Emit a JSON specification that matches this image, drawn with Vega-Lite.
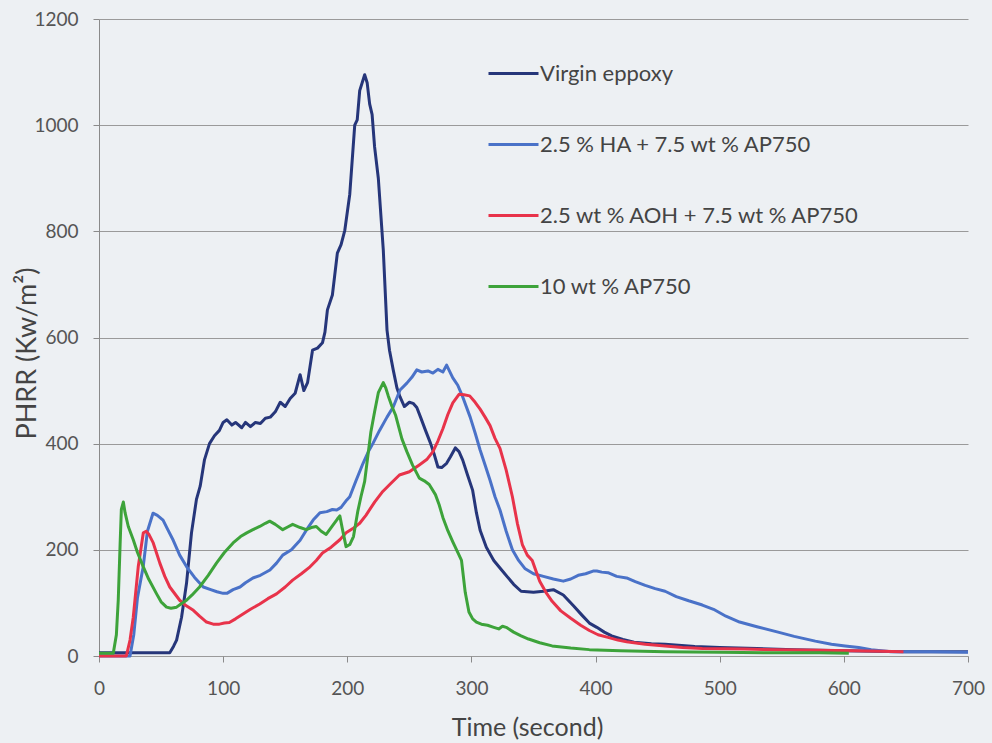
{
  "$schema": "https://vega.github.io/schema/vega-lite/v6.json",
  "autosize": "none",
  "width": 869,
  "height": 637,
  "padding": {"left": 99, "top": 19, "right": 24, "bottom": 87},
  "background": "#edf0f3",
  "config": {
    "view": {"stroke": null},
    "font": "Lato",
    "axis": {"labelFont": "Lato", "titleFont": "Lato", "labelColor": "#555555", "titleColor": "#444444", "titleFontWeight": "normal", "domainColor": "#8a8a8a", "tickColor": "#8a8a8a", "gridColor": "#9a9a9a", "gridWidth": 1, "labelFlush": false, "labelOverlap": false}
  },
  "data": {"values": [
{"s":"V","t":0,"y":6},{"s":"V","t":10,"y":6},{"s":"V","t":20,"y":6},{"s":"V","t":30,"y":6},{"s":"V","t":40,"y":6},{"s":"V","t":50,"y":6},{"s":"V","t":57,"y":6},{"s":"V","t":60,"y":18},{"s":"V","t":62.5,"y":30},{"s":"V","t":66.5,"y":73},{"s":"V","t":70.5,"y":137},{"s":"V","t":74.5,"y":232},{"s":"V","t":78.5,"y":295},{"s":"V","t":81.5,"y":320},{"s":"V","t":85,"y":370},{"s":"V","t":89,"y":400},{"s":"V","t":93,"y":415},{"s":"V","t":97,"y":425},{"s":"V","t":100,"y":440},{"s":"V","t":103,"y":445},{"s":"V","t":107,"y":435},{"s":"V","t":110,"y":440},{"s":"V","t":115,"y":430},{"s":"V","t":118,"y":440},{"s":"V","t":122,"y":432},{"s":"V","t":126,"y":440},{"s":"V","t":130,"y":438},{"s":"V","t":134,"y":448},{"s":"V","t":138,"y":450},{"s":"V","t":142,"y":460},{"s":"V","t":146,"y":478},{"s":"V","t":150,"y":470},{"s":"V","t":154,"y":485},{"s":"V","t":158,"y":495},{"s":"V","t":162,"y":530},{"s":"V","t":165,"y":500},{"s":"V","t":168,"y":515},{"s":"V","t":172,"y":576},{"s":"V","t":176,"y":580},{"s":"V","t":180,"y":590},{"s":"V","t":182,"y":610},{"s":"V","t":184,"y":652},{"s":"V","t":188,"y":680},{"s":"V","t":192,"y":759},{"s":"V","t":195,"y":775},{"s":"V","t":198,"y":802},{"s":"V","t":202,"y":870},{"s":"V","t":206,"y":1000},{"s":"V","t":208,"y":1010},{"s":"V","t":210,"y":1065},{"s":"V","t":214,"y":1095},{"s":"V","t":216,"y":1080},{"s":"V","t":218,"y":1040},{"s":"V","t":220,"y":1020},{"s":"V","t":222,"y":959},{"s":"V","t":225,"y":900},{"s":"V","t":229,"y":765},{"s":"V","t":232,"y":614},{"s":"V","t":234,"y":576},{"s":"V","t":237,"y":539},{"s":"V","t":240,"y":505},{"s":"V","t":242.5,"y":488},{"s":"V","t":246,"y":470},{"s":"V","t":250,"y":478},{"s":"V","t":253,"y":476},{"s":"V","t":256,"y":468},{"s":"V","t":259,"y":450},{"s":"V","t":263,"y":425},{"s":"V","t":267,"y":401},{"s":"V","t":270,"y":380},{"s":"V","t":273,"y":356},{"s":"V","t":276,"y":355},{"s":"V","t":280,"y":363},{"s":"V","t":283,"y":375},{"s":"V","t":287,"y":392},{"s":"V","t":290,"y":385},{"s":"V","t":293,"y":369},{"s":"V","t":297,"y":340},{"s":"V","t":301,"y":312},{"s":"V","t":304,"y":270},{"s":"V","t":307,"y":237},{"s":"V","t":312,"y":205},{"s":"V","t":318,"y":180},{"s":"V","t":325,"y":160},{"s":"V","t":334,"y":135},{"s":"V","t":340,"y":122},{"s":"V","t":350,"y":120},{"s":"V","t":358,"y":122},{"s":"V","t":366,"y":125},{"s":"V","t":374,"y":115},{"s":"V","t":382,"y":95},{"s":"V","t":389,"y":77},{"s":"V","t":395,"y":62},{"s":"V","t":401,"y":54},{"s":"V","t":407,"y":45},{"s":"V","t":413,"y":38},{"s":"V","t":422,"y":31},{"s":"V","t":431,"y":26},{"s":"V","t":445,"y":23},{"s":"V","t":456,"y":22},{"s":"V","t":480,"y":18},{"s":"V","t":500,"y":16},{"s":"V","t":530,"y":14},{"s":"V","t":560,"y":12},{"s":"V","t":600,"y":10},{"s":"V","t":650,"y":8},{"s":"V","t":700,"y":8},
{"s":"H","t":0,"y":0},{"s":"H","t":10,"y":0},{"s":"H","t":20,"y":0},{"s":"H","t":25,"y":0},{"s":"H","t":28,"y":40},{"s":"H","t":31,"y":110},{"s":"H","t":35.6,"y":168},{"s":"H","t":39,"y":235},{"s":"H","t":43.5,"y":269},{"s":"H","t":47,"y":265},{"s":"H","t":51.6,"y":256},{"s":"H","t":55,"y":240},{"s":"H","t":59.8,"y":218},{"s":"H","t":65,"y":190},{"s":"H","t":70.6,"y":168},{"s":"H","t":77,"y":148},{"s":"H","t":84,"y":130},{"s":"H","t":90,"y":125},{"s":"H","t":95,"y":121},{"s":"H","t":100,"y":118},{"s":"H","t":103,"y":118},{"s":"H","t":108,"y":125},{"s":"H","t":113.6,"y":130},{"s":"H","t":118,"y":138},{"s":"H","t":124,"y":147},{"s":"H","t":130,"y":152},{"s":"H","t":137.7,"y":162},{"s":"H","t":143,"y":175},{"s":"H","t":148,"y":190},{"s":"H","t":155,"y":200},{"s":"H","t":162,"y":218},{"s":"H","t":167,"y":237},{"s":"H","t":172.5,"y":256},{"s":"H","t":178,"y":270},{"s":"H","t":183.5,"y":272},{"s":"H","t":188,"y":276},{"s":"H","t":191.5,"y":275},{"s":"H","t":195,"y":280},{"s":"H","t":199.6,"y":294},{"s":"H","t":202,"y":300},{"s":"H","t":207,"y":330},{"s":"H","t":212.7,"y":363},{"s":"H","t":217,"y":385},{"s":"H","t":220.8,"y":401},{"s":"H","t":226,"y":425},{"s":"H","t":232,"y":450},{"s":"H","t":237,"y":469},{"s":"H","t":242.5,"y":501},{"s":"H","t":248,"y":514},{"s":"H","t":252,"y":525},{"s":"H","t":256,"y":539},{"s":"H","t":260,"y":535},{"s":"H","t":265,"y":537},{"s":"H","t":269,"y":533},{"s":"H","t":273,"y":540},{"s":"H","t":277,"y":535},{"s":"H","t":280,"y":548},{"s":"H","t":285,"y":524},{"s":"H","t":289,"y":510},{"s":"H","t":293,"y":488},{"s":"H","t":299,"y":450},{"s":"H","t":303,"y":420},{"s":"H","t":307,"y":388},{"s":"H","t":311,"y":360},{"s":"H","t":315,"y":331},{"s":"H","t":319,"y":300},{"s":"H","t":323,"y":275},{"s":"H","t":328,"y":235},{"s":"H","t":333,"y":200},{"s":"H","t":338,"y":180},{"s":"H","t":343,"y":165},{"s":"H","t":350,"y":155},{"s":"H","t":358,"y":150},{"s":"H","t":366,"y":145},{"s":"H","t":374,"y":141},{"s":"H","t":380,"y":145},{"s":"H","t":386,"y":152},{"s":"H","t":392,"y":155},{"s":"H","t":398,"y":160},{"s":"H","t":401,"y":160},{"s":"H","t":405,"y":158},{"s":"H","t":410,"y":157},{"s":"H","t":417,"y":150},{"s":"H","t":425,"y":147},{"s":"H","t":432,"y":140},{"s":"H","t":440,"y":133},{"s":"H","t":448,"y":127},{"s":"H","t":456,"y":122},{"s":"H","t":465,"y":112},{"s":"H","t":475,"y":104},{"s":"H","t":486,"y":96},{"s":"H","t":495,"y":88},{"s":"H","t":505,"y":75},{"s":"H","t":516,"y":64},{"s":"H","t":530,"y":55},{"s":"H","t":547,"y":45},{"s":"H","t":560,"y":37},{"s":"H","t":577,"y":28},{"s":"H","t":590,"y":22},{"s":"H","t":601,"y":19},{"s":"H","t":612,"y":16},{"s":"H","t":622,"y":12},{"s":"H","t":638,"y":8},{"s":"H","t":650,"y":8},{"s":"H","t":670,"y":8},{"s":"H","t":700,"y":7},
{"s":"A","t":0,"y":0},{"s":"A","t":10,"y":0},{"s":"A","t":22,"y":0},{"s":"A","t":25,"y":30},{"s":"A","t":27.6,"y":73},{"s":"A","t":31.6,"y":168},{"s":"A","t":35.7,"y":232},{"s":"A","t":38,"y":235},{"s":"A","t":40,"y":230},{"s":"A","t":43.7,"y":213},{"s":"A","t":49,"y":175},{"s":"A","t":53,"y":150},{"s":"A","t":57,"y":130},{"s":"A","t":65,"y":105},{"s":"A","t":70,"y":95},{"s":"A","t":76,"y":86},{"s":"A","t":81,"y":75},{"s":"A","t":86.6,"y":64},{"s":"A","t":92,"y":60},{"s":"A","t":97,"y":60},{"s":"A","t":101,"y":62},{"s":"A","t":105,"y":63},{"s":"A","t":110,"y":70},{"s":"A","t":116,"y":79},{"s":"A","t":122,"y":88},{"s":"A","t":129.5,"y":98},{"s":"A","t":136,"y":108},{"s":"A","t":143,"y":117},{"s":"A","t":150,"y":130},{"s":"A","t":156,"y":143},{"s":"A","t":163,"y":155},{"s":"A","t":170,"y":168},{"s":"A","t":175,"y":180},{"s":"A","t":180,"y":194},{"s":"A","t":187,"y":205},{"s":"A","t":194,"y":219},{"s":"A","t":199,"y":232},{"s":"A","t":204.5,"y":240},{"s":"A","t":210,"y":250},{"s":"A","t":215,"y":265},{"s":"A","t":222,"y":290},{"s":"A","t":228.6,"y":310},{"s":"A","t":235,"y":325},{"s":"A","t":242,"y":341},{"s":"A","t":250,"y":347},{"s":"A","t":258,"y":360},{"s":"A","t":264,"y":370},{"s":"A","t":269,"y":385},{"s":"A","t":273,"y":405},{"s":"A","t":277,"y":428},{"s":"A","t":281,"y":455},{"s":"A","t":285,"y":477},{"s":"A","t":290,"y":493},{"s":"A","t":294,"y":492},{"s":"A","t":298.6,"y":490},{"s":"A","t":303,"y":478},{"s":"A","t":307,"y":465},{"s":"A","t":311,"y":450},{"s":"A","t":315,"y":434},{"s":"A","t":319,"y":410},{"s":"A","t":323,"y":391},{"s":"A","t":328,"y":350},{"s":"A","t":333,"y":300},{"s":"A","t":337,"y":250},{"s":"A","t":341,"y":210},{"s":"A","t":345,"y":190},{"s":"A","t":349,"y":180},{"s":"A","t":352,"y":160},{"s":"A","t":355,"y":141},{"s":"A","t":360,"y":120},{"s":"A","t":365,"y":103},{"s":"A","t":372,"y":85},{"s":"A","t":380,"y":71},{"s":"A","t":388,"y":58},{"s":"A","t":395,"y":48},{"s":"A","t":402,"y":40},{"s":"A","t":410,"y":35},{"s":"A","t":418,"y":30},{"s":"A","t":425,"y":27},{"s":"A","t":440,"y":22},{"s":"A","t":456,"y":19},{"s":"A","t":470,"y":16},{"s":"A","t":486,"y":14},{"s":"A","t":520,"y":13},{"s":"A","t":547,"y":12},{"s":"A","t":580,"y":11},{"s":"A","t":607,"y":10},{"s":"A","t":630,"y":9},{"s":"A","t":648,"y":8},
{"s":"G","t":0,"y":5},{"s":"G","t":5,"y":5},{"s":"G","t":11.5,"y":5},{"s":"G","t":14,"y":40},{"s":"G","t":15.5,"y":105},{"s":"G","t":17,"y":210},{"s":"G","t":18,"y":276},{"s":"G","t":19.6,"y":290},{"s":"G","t":21,"y":270},{"s":"G","t":23.6,"y":244},{"s":"G","t":27.6,"y":219},{"s":"G","t":31,"y":195},{"s":"G","t":35.7,"y":168},{"s":"G","t":40,"y":145},{"s":"G","t":46.4,"y":117},{"s":"G","t":50,"y":102},{"s":"G","t":54.4,"y":92},{"s":"G","t":58,"y":90},{"s":"G","t":62.5,"y":92},{"s":"G","t":66,"y":98},{"s":"G","t":70.5,"y":105},{"s":"G","t":75,"y":115},{"s":"G","t":81,"y":130},{"s":"G","t":88,"y":152},{"s":"G","t":94.6,"y":175},{"s":"G","t":101,"y":195},{"s":"G","t":108,"y":213},{"s":"G","t":114,"y":225},{"s":"G","t":119,"y":232},{"s":"G","t":124,"y":238},{"s":"G","t":129.5,"y":244},{"s":"G","t":134,"y":250},{"s":"G","t":137.5,"y":254},{"s":"G","t":142,"y":248},{"s":"G","t":148,"y":238},{"s":"G","t":152,"y":243},{"s":"G","t":156,"y":248},{"s":"G","t":162,"y":242},{"s":"G","t":167,"y":238},{"s":"G","t":171,"y":242},{"s":"G","t":175,"y":244},{"s":"G","t":179,"y":235},{"s":"G","t":183,"y":229},{"s":"G","t":188,"y":245},{"s":"G","t":192,"y":258},{"s":"G","t":194,"y":264},{"s":"G","t":196,"y":240},{"s":"G","t":199,"y":206},{"s":"G","t":202,"y":210},{"s":"G","t":205,"y":225},{"s":"G","t":208.5,"y":273},{"s":"G","t":211,"y":300},{"s":"G","t":214,"y":329},{"s":"G","t":219,"y":422},{"s":"G","t":222,"y":460},{"s":"G","t":225,"y":496},{"s":"G","t":229,"y":515},{"s":"G","t":231,"y":505},{"s":"G","t":233,"y":490},{"s":"G","t":236,"y":470},{"s":"G","t":239,"y":453},{"s":"G","t":244,"y":409},{"s":"G","t":248,"y":385},{"s":"G","t":252.5,"y":360},{"s":"G","t":258,"y":335},{"s":"G","t":262,"y":330},{"s":"G","t":266,"y":323},{"s":"G","t":271,"y":304},{"s":"G","t":274,"y":285},{"s":"G","t":277,"y":261},{"s":"G","t":281,"y":236},{"s":"G","t":285,"y":215},{"s":"G","t":289,"y":195},{"s":"G","t":292,"y":180},{"s":"G","t":295,"y":120},{"s":"G","t":298,"y":83},{"s":"G","t":301,"y":70},{"s":"G","t":304,"y":64},{"s":"G","t":308,"y":60},{"s":"G","t":313,"y":58},{"s":"G","t":318,"y":54},{"s":"G","t":322,"y":51},{"s":"G","t":325,"y":56},{"s":"G","t":328,"y":54},{"s":"G","t":334,"y":45},{"s":"G","t":340,"y":38},{"s":"G","t":346,"y":32},{"s":"G","t":355,"y":25},{"s":"G","t":365,"y":19},{"s":"G","t":380,"y":15},{"s":"G","t":395,"y":12},{"s":"G","t":420,"y":10},{"s":"G","t":456,"y":8},{"s":"G","t":500,"y":7},{"s":"G","t":547,"y":6},{"s":"G","t":580,"y":6},{"s":"G","t":604,"y":5}
  ]},
  "mark": {"type": "line", "strokeWidth": 3, "strokeJoin": "round"},
  "encoding": {
    "x": {"field": "t", "type": "quantitative", "scale": {"domain": [0, 700], "nice": false},
      "axis": {"values": [0,100,200,300,400,500,600,700], "grid": false, "title": "Time (second)", "labelFontSize": 19, "labelBaseline": "middle", "labelPadding": 26, "tickSize": 6, "domain": false, "titleFontSize": 25, "titleX": 428, "titleY": 71, "titleBaseline": "middle", "titleAnchor": null}},
    "y": {"field": "y", "type": "quantitative", "scale": {"domain": [0, 1200], "nice": false},
      "axis": {"values": [0,200,400,600,800,1000,1200], "format": "d", "grid": true, "title": "PHRR (Kw/m²)", "labelFontSize": 19, "labelPadding": 15, "tickSize": 6, "titleFontSize": 27, "titleX": -72, "titleY": 334, "titleAngle": -90, "titleBaseline": "middle", "titleAlign": "center", "titleAnchor": null}},
    "color": {"field": "s", "type": "nominal",
      "scale": {"domain": ["V","H","A","G"], "range": ["#26367a","#4a72c8","#e8334a","#3da33a"]},
      "legend": {"title": null, "orient": "none", "legendX": 388, "legendY": 28, "symbolType": "stroke", "symbolSize": 2500, "symbolStrokeWidth": 3, "labelFontSize": 22, "labelColor": "#444444", "labelFont": "Lato", "labelLimit": 0, "rowPadding": 33, "labelOffset": 0,
        "labelExpr": "datum.value == 'V' ? 'Virgin eppoxy' : datum.value == 'H' ? '2.5 % HA + 7.5 wt % AP750' : datum.value == 'A' ? '2.5 wt % AOH + 7.5 wt % AP750' : '10 wt % AP750'"}},
    "order": {"field": "t", "type": "quantitative"}
  }
}
